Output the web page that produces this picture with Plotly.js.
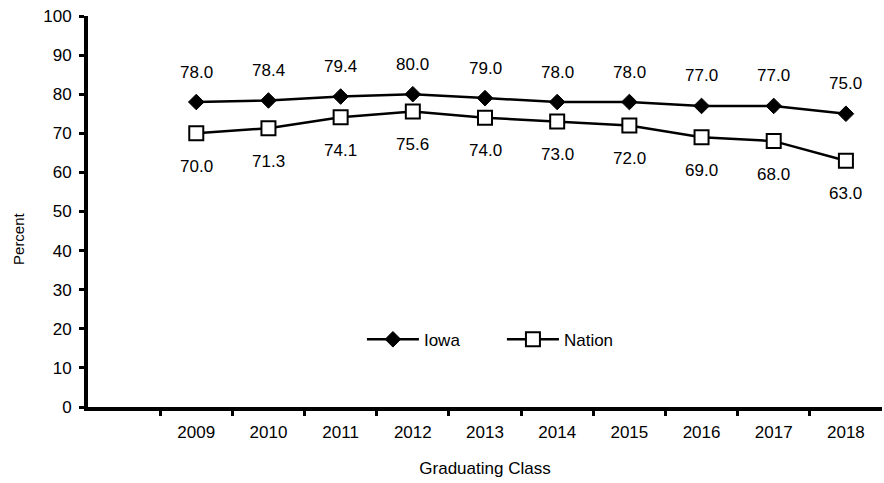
<!DOCTYPE html>
<html>
<head>
<meta charset="utf-8">
<script src="https://cdn.plot.ly/plotly-3.0.1.min.js"></script>
<style>html,body{margin:0;padding:0;background:#fff;}#chart{width:884px;height:483px;}</style>
</head>
<body>
<div id="chart"></div>
<script>
const years = [2009, 2010, 2011, 2012, 2013, 2014, 2015, 2016, 2017, 2018];
const yearLabels = ['2009','2010','2011','2012','2013','2014','2015','2016','2017','2018'];
const iowa = [78.0, 78.4, 79.4, 80.0, 79.0, 78.0, 78.0, 77.0, 77.0, 75.0];
const nation = [70.0, 71.3, 74.1, 75.6, 74.0, 73.0, 72.0, 69.0, 68.0, 63.0];
const yTicks = [0,10,20,30,40,50,60,70,80,90,100];

const FONT = 'Liberation Sans, Arial, sans-serif';
const FS = 17;

const traces = [
  {x: years, y: iowa, name: 'Iowa', type: 'scatter', mode: 'lines+markers',
   line: {color: '#000', width: 2.5},
   marker: {symbol: 'diamond', size: 12, color: '#000', line: {color: '#000', width: 1}}},
  {x: years, y: nation, name: 'Nation', type: 'scatter', mode: 'lines+markers',
   line: {color: '#000', width: 2.5},
   marker: {symbol: 'square', size: 14, color: '#fff', line: {color: '#000', width: 2}}}
];

const annotations = [];
years.forEach((yr, i) => {
  annotations.push({x: yr, y: iowa[i], text: iowa[i].toFixed(1), showarrow: false, yshift: 30,
    font: {family: FONT, size: FS, color: '#000'}});
  annotations.push({x: yr, y: nation[i], text: nation[i].toFixed(1), showarrow: false, yshift: -33,
    font: {family: FONT, size: FS, color: '#000'}});
});
annotations.push({xref: 'paper', yref: 'paper', x: -0.1, y: 0.43, text: 'Percent', textangle: -90,
  showarrow: false, font: {family: FONT, size: 15, color: '#000'}});

const boundaries = years.map(y => y - 0.5);

const layout = {
  width: 884, height: 483,
  margin: {l: 88, r: 2, t: 16, b: 76},
  paper_bgcolor: '#fff', plot_bgcolor: '#fff',
  font: {family: FONT, size: FS, color: '#000'},
  showlegend: true,
  legend: {orientation: 'h', x: 0.345, y: 0.172, xanchor: 'left', yanchor: 'middle',
    font: {family: FONT, size: FS, color: '#000'}, itemwidth: 52, entrywidth: 73,
    bgcolor: 'rgba(0,0,0,0)'},
  xaxis: {range: [2007.5, 2018.5], tickvals: years, ticktext: yearLabels, ticks: '',
    showgrid: false, zeroline: false, showline: true, linecolor: '#000', linewidth: 4,
    ticklabelstandoff: 7,
    tickfont: {family: FONT, size: FS, color: '#000'},
    minor: {tickvals: boundaries, ticks: 'outside', ticklen: 5, tickwidth: 3, tickcolor: '#000', showgrid: false},
    title: {text: 'Graduating Class', standoff: 22, font: {family: FONT, size: FS, color: '#000'}}},
  yaxis: {range: [0, 100], tickvals: yTicks, ticks: 'outside', ticklen: 5, tickwidth: 3, tickcolor: '#000',
    showgrid: false, zeroline: false, showline: true, linecolor: '#000', linewidth: 4,
    ticklabelstandoff: 4,
    tickfont: {family: FONT, size: FS, color: '#000'}},
  annotations: annotations
};

Plotly.newPlot('chart', traces, layout, {displayModeBar: false, staticPlot: true});
</script>
</body>
</html>
